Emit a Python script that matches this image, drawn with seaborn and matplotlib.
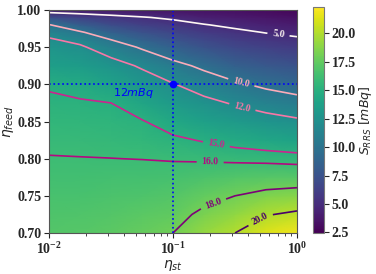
import numpy as np
import matplotlib
matplotlib.use('Agg')
import matplotlib.pyplot as plt
import seaborn as sns

# grid (eta_st on log axis, eta_feed linear)
eta_st = [10**-2, 10**-1.75, 10**-1.5, 10**-1.25, 10**-1, 10**-0.75, 10**-0.5, 10**-0.25, 10**0]
eta_feed = [0.70, 0.725, 0.75, 0.775, 0.80, 0.825, 0.85, 0.875, 0.90, 0.925,
            0.95, 0.96, 0.97, 0.98, 0.99, 1.00]

# S_RRS [mBq], one row per eta_feed value
s_rrs = [
    [17.0, 17.1, 17.3, 17.6, 18.0, 19.15, 20.0, 21.3, 21.9],
    [16.75, 16.81, 16.98, 17.2, 17.48, 18.33, 19.0, 19.89, 20.3],
    [16.5, 16.54, 16.66, 16.79, 16.97, 17.51, 18.0, 18.46, 18.7],
    [16.3, 16.27, 16.33, 16.39, 16.45, 16.69, 16.89, 17.06, 17.1],
    [16.05, 16.03, 16.01, 15.98, 15.92, 15.85, 15.75, 15.65, 15.5],
    [15.78, 15.74, 15.68, 15.54, 15.24, 14.9, 14.5, 14.18, 13.9],
    [15.49, 15.45, 15.34, 15.09, 14.35, 13.67, 13.16, 12.71, 12.3],
    [15.23, 15.15, 15.0, 14.15, 13.19, 12.48, 11.82, 11.19, 10.7],
    [14.85, 14.47, 13.86, 12.99, 12.09, 11.14, 10.3, 9.6, 9.1],
    [13.6, 13.37, 12.73, 11.77, 10.6, 9.59, 8.57, 7.93, 7.5],
    [12.8, 12.26, 11.05, 9.77, 8.56, 7.54, 6.79, 6.27, 5.9],
    [12.2, 11.5, 10.0, 8.6, 7.6, 6.72, 6.07, 5.6, 5.26],
    [11.4, 10.25, 8.53, 7.44, 6.63, 5.9, 5.36, 4.93, 4.62],
    [10.1, 8.33, 7.06, 6.28, 5.67, 5.08, 4.64, 4.27, 3.98],
    [7.2, 6.25, 5.59, 5.12, 4.7, 4.2, 3.92, 3.6, 3.34],
    [3.8, 3.7, 3.6, 3.5, 3.4, 3.3, 3.2, 2.95, 2.7],
]

levels = [5, 10, 12, 15, 16, 18, 20]

# operating point
point_st = 0.1
point_feed = 0.90
point_label = r'$12mBq$'

sns.set_style('ticks')
plt.rcParams['font.family'] = ['Liberation Serif', 'DejaVu Sans']

fig = plt.figure(figsize=(3.76, 2.74), dpi=100)
ax = fig.add_axes([49/376, 1 - 233/274, 248/376, 223/274])
cax = fig.add_axes([313/376, 1 - 233/274, 11/376, 226/274])

# work in log10(eta_st) so the contour interpolation follows the log axis
U, Y = np.meshgrid(np.log10(eta_st), eta_feed)
Z = np.array(s_rrs)

mesh = ax.pcolormesh(U, Y, Z, cmap='viridis', vmin=2.45, vmax=22.3, shading='gouraud')

rdpu = sns.color_palette('RdPu', as_cmap=True)
line_colors = [rdpu((l - 5) / 15) for l in levels]
cs = ax.contour(U, Y, Z, levels=levels, colors=line_colors, linewidths=1.2)
label_pos = [(-0.15, 0.966), (-0.45, 0.902), (-0.44, 0.870),
             (-0.65, 0.82), (-0.70, 0.797), (-0.68, 0.742), (-0.30, 0.72)]
clbls = ax.clabel(cs, fmt='%1.1f', fontsize=7, inline=True, manual=label_pos)
plt.setp(clbls, fontweight='bold')

ax.axhline(point_feed, color='blue', linestyle=':', linewidth=1.2)
ax.axvline(np.log10(point_st), color='blue', linestyle=':', linewidth=1.2)
ax.plot([np.log10(point_st)], [point_feed], 'o', color='blue', markersize=4.5)
ax.text(-1.15, 0.889, point_label, color='blue', fontsize=8,
        ha='right', va='center')

ax.set_xlim(-2, 0)
ax.set_ylim(0.70, 1.00)
ax.set_xticks([-2, -1, 0])
ax.set_xticklabels([r'$\mathdefault{10^{-2}}$', r'$\mathdefault{10^{-1}}$',
                    r'$\mathdefault{10^{0}}$'])
minor = [np.log10(m * d) for d in (0.01, 0.1) for m in range(2, 10)]
ax.set_xticks(minor, minor=True)
ax.tick_params(axis='x', which='minor', length=2, width=0.6)
ax.set_yticks(np.arange(0.70, 1.001, 0.05))
ax.yaxis.set_major_formatter(matplotlib.ticker.FormatStrFormatter('%.2f'))
ax.tick_params(which='major', labelsize=10, length=3.5, pad=2)
plt.setp(ax.get_xticklabels() + ax.get_yticklabels(), fontweight='bold')
ax.set_xlabel(r'$\eta_{st}$', fontsize=10, labelpad=1)
ax.set_ylabel(r'$\eta_{feed}$', fontsize=10, labelpad=1)
for sp in ax.spines.values():
    sp.set_color('#555555')

cb = fig.colorbar(mesh, cax=cax)
cb.outline.set_edgecolor('#777777')
cb.ax.tick_params(labelsize=10, length=3.5, pad=2)
plt.setp(cb.ax.get_yticklabels(), fontweight='bold')
cb.set_label(r'$S_{RRS}\ [mBq]$', fontsize=9, labelpad=1)

plt.savefig('out.png', dpi=100)
